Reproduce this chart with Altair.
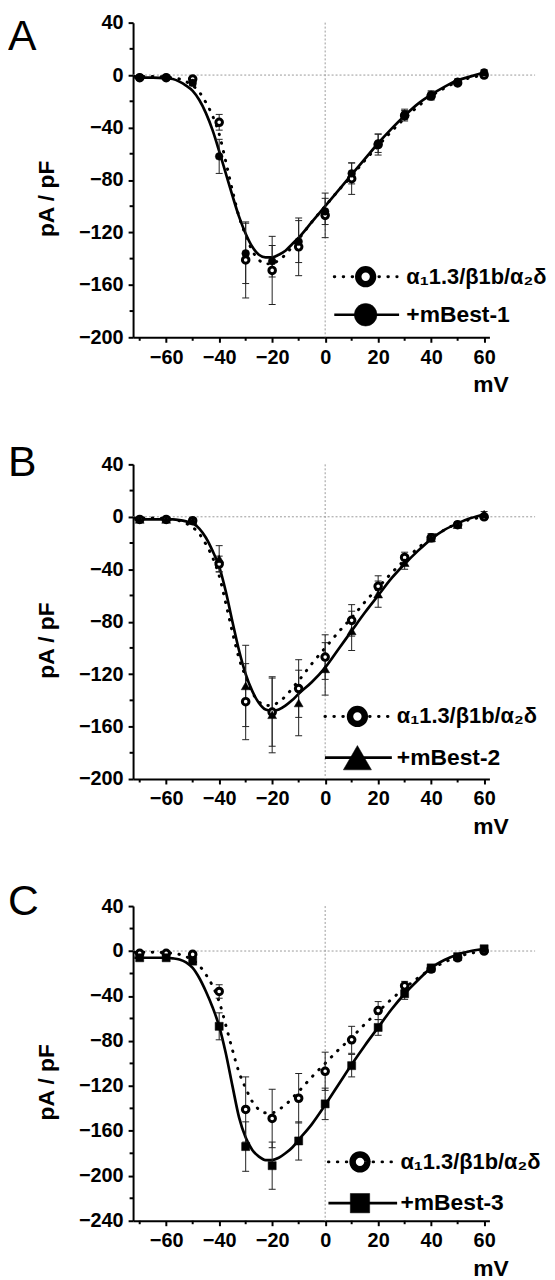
import altair as alt
import pandas as pd

FONT = "Liberation Sans"

# ---- data ----
voltages = [-70, -60, -50, -40, -30, -20, -10, 0, 10, 20, 30, 40, 50, 60]
ctrl_mean = [-2, -2, -3, -36, -141, -149, -131, -107, -79, -53, -31, -16, -6, 0]
ctrl_err = [1, 1, 2, 6, 29, 26, 22, 17, 12, 8, 4, 3, 2, 2]
best1_mean = [-2, -2, -6, -62, -136, -142, -127, -104, -75, -52, -30, -15, -5, 2]
best1_err = [1, 1, 2, 13, 23, 12, 16, 10, 8, 7, 4, 3, 2, 2]
best2_mean = [-2, -2, -3, -32, -129, -151, -142, -116, -87, -59, -35, -16, -6, 2]
best2_err = [1, 1, 2, 10, 31, 29, 25, 20, 15, 10, 5, 3, 2, 2]
best3_mean = [-6, -6, -9, -67, -174, -191, -169, -136, -102, -68, -38, -15, -5, 2]
best3_err = [2, 2, 3, 12, 22, 21, 17, 14, 10, 7, 5, 3, 2, 2]

# fitted curves
fit_v = [-72, -65, -60, -57.5, -55, -52.5, -50, -47.5, -45, -42.5, -40, -37.5, -35,
         -32.5, -30, -27.5, -25, -22.5, -20, -17.5, -15, -12.5, -10, -5, 0, 5, 10,
         15, 20, 25, 30, 35, 40, 45, 50, 55, 60]
fit_ctrl = [-1, -1, -1.5, -2, -3, -5, -8, -13, -21, -31, -45, -66, -88,
            -108, -122, -134, -141, -144, -144, -141, -137, -131, -125, -112, -100, -88, -77,
            -65, -54, -43, -33, -24, -16, -10, -5, -2, 0]
fit_best1 = [-2, -2, -2.5, -3, -5, -8, -12, -19, -29, -42, -58, -75, -92,
             -108, -121, -131, -137, -139, -139, -137, -134, -129, -124, -112, -100, -88, -76,
             -64, -52, -41, -31, -22, -15, -9, -4, -1, 2]
fit_best2 = [-2, -2, -2, -2, -2.5, -3.5, -5, -9, -16, -26, -38, -57, -80,
             -102, -120, -133, -142, -147, -148, -147, -144, -140, -135, -126, -115, -101, -87,
             -73, -60, -47, -36, -26, -17, -10, -5, -1, 2]
fit_best3 = [-6, -6, -6, -6.5, -7.5, -10, -15, -24, -36, -50, -67, -91, -120,
             -148, -166, -177, -183, -186, -186, -184, -180, -175, -168, -154, -137, -119, -101,
             -84, -68, -52, -38, -26, -15, -8, -3, 0, 2]

x_major = [-60, -40, -20, 0, 20, 40, 60]
x_minor = [-70, -50, -30, -10, 10, 30, 50]

W, H = 359, 317
CTRL_LABEL = "α₁1.3/β1b/α₂δ"


def panel(letter, letter_y, mean, err, fit, ydom, ymajor, yminor, shape, size,
          leg_label, leg_shape, leg_size, leg):
    x_enc = alt.X("v:Q", scale=alt.Scale(domain=[-72.5, 62], nice=False, zero=False),
                  axis=alt.Axis(values=x_major, title="mV", titleX=360, titleY=48,
                                titleAlign="center", titleBaseline="middle",
                                labelFlush=False))
    y_enc = alt.Y("i:Q", scale=alt.Scale(domain=ydom, nice=False, zero=False),
                  axis=alt.Axis(values=ymajor, title="pA / pF", titleAngle=270,
                                titleX=-87, titleY=177, titleAlign="center",
                                titleBaseline="middle"))

    zero_h = alt.Chart(pd.DataFrame({"i": [0]})).mark_rule(
        color="#9a9a9a", strokeWidth=1, strokeDash=[2, 2]).encode(
        y=y_enc, x=alt.value(0), x2=alt.value(405))
    zero_v = alt.Chart(pd.DataFrame({"v": [0]})).mark_rule(
        color="#9a9a9a", strokeWidth=1, strokeDash=[2, 2]).encode(
        x=x_enc, y=alt.value(0), y2=alt.value(H))
    minor_y = alt.Chart(pd.DataFrame({"i": yminor})).mark_rule(
        color="black", strokeWidth=2).encode(y=y_enc, x=alt.value(-3.5), x2=alt.value(0))
    minor_x = alt.Chart(pd.DataFrame({"v": x_minor})).mark_rule(
        color="black", strokeWidth=2).encode(x=x_enc, y=alt.value(H), y2=alt.value(H + 3.5))

    fit_c = alt.Chart(pd.DataFrame({"v": fit_v, "i": fit_ctrl})).mark_line(
        color="black", strokeWidth=3, strokeDash=[0.5, 8.5], strokeCap="round",
        interpolate="monotone").encode(x=x_enc, y=y_enc)
    fit_t = alt.Chart(pd.DataFrame({"v": fit_v, "i": fit})).mark_line(
        color="black", strokeWidth=2.7, interpolate="monotone").encode(x=x_enc, y=y_enc)

    lo_c = [m - e for m, e in zip(ctrl_mean, ctrl_err)]
    hi_c = [m + e for m, e in zip(ctrl_mean, ctrl_err)]
    lo_t = [m - e for m, e in zip(mean, err)]
    hi_t = [m + e for m, e in zip(mean, err)]
    bars = alt.Chart(pd.DataFrame({"v": voltages * 2, "i": lo_c + lo_t, "i2": hi_c + hi_t})).mark_rule(
        color="#222", strokeWidth=1).encode(x=x_enc, y=y_enc, y2="i2:Q")
    caps = alt.Chart(pd.DataFrame({"v": voltages * 4, "i": lo_c + hi_c + lo_t + hi_t})).mark_tick(
        orient="horizontal", size=7, thickness=1, color="#222", opacity=1).encode(x=x_enc, y=y_enc)

    pts_c = alt.Chart(pd.DataFrame({"v": voltages, "i": ctrl_mean})).mark_point(
        shape="circle", filled=True, fill="white", stroke="black", strokeWidth=3,
        size=44, opacity=1).encode(x=x_enc, y=y_enc)
    pts_t = alt.Chart(pd.DataFrame({"v": voltages, "i": mean})).mark_point(
        shape=shape, filled=True, fill="black", stroke="black", strokeWidth=0.5,
        size=size, opacity=1).encode(x=x_enc, y=y_enc)

    dummy = pd.DataFrame({"d": [0]})
    r1, r2, lx0, lx1, mx, tx = leg
    l_rule1 = alt.Chart(dummy).mark_rule(
        color="black", strokeWidth=3, strokeDash=[0.5, 8.5], strokeCap="round").encode(
        x=alt.value(lx0), x2=alt.value(lx1), y=alt.value(r1))
    l_pt1 = alt.Chart(dummy).mark_point(
        shape="circle", filled=True, fill="white", stroke="black", strokeWidth=6.5,
        size=222, opacity=1).encode(x=alt.value(mx), y=alt.value(r1))
    l_txt1 = alt.Chart(dummy).mark_text(
        text=CTRL_LABEL, align="left", baseline="middle", font=FONT, fontSize=22,
        fontWeight="bold", color="black").encode(x=alt.value(tx), y=alt.value(r1))
    l_rule2 = alt.Chart(dummy).mark_rule(color="black", strokeWidth=2.7).encode(
        x=alt.value(lx0), x2=alt.value(lx1 + 2), y=alt.value(r2))
    l_pt2 = alt.Chart(dummy).mark_point(
        shape=leg_shape, filled=True, fill="black", stroke="black", strokeWidth=0.5,
        size=leg_size, opacity=1).encode(x=alt.value(mx), y=alt.value(r2))
    l_txt2 = alt.Chart(dummy).mark_text(
        text=leg_label, align="left", baseline="middle", font=FONT, fontSize=23,
        fontWeight="bold", color="black").encode(x=alt.value(tx), y=alt.value(r2))

    lab = alt.Chart(dummy).mark_text(
        text=letter, align="left", baseline="top", font=FONT, fontSize=43,
        color="black").encode(x=alt.value(-126), y=alt.value(letter_y))

    return alt.layer(zero_h, zero_v, minor_y, minor_x, fit_c, fit_t, bars, caps,
                     pts_c, pts_t, l_rule1, l_pt1, l_txt1, l_rule2, l_pt2, l_txt2,
                     lab).properties(width=W, height=H)


pA = panel("A", -6, best1_mean, best1_err, fit_best1, [-200, 40],
           [40, 0, -40, -80, -120, -160, -200], [20, -20, -60, -100, -140, -180],
           "circle", 60, "+mBest-1", "circle", 520,
           (256, 294.3, 202.7, 266, 234.3, 275.3))
pB = panel("B", -22.5, best2_mean, best2_err, fit_best2, [-200, 40],
           [40, 0, -40, -80, -120, -160, -200], [20, -20, -60, -100, -140, -180],
           "triangle-up", 80, "+mBest-2", "triangle-up", 800,
           (254, 295.5, 193.3, 258.7, 226, 265.7))
pC = panel("C", -25.2, best3_mean, best3_err, fit_best3, [-240, 40],
           [40, 0, -40, -80, -120, -160, -200, -240], [20, -20, -60, -100, -140, -180, -220],
           "square", 66, "+mBest-3", "square", 380,
           (257.7, 299.3, 196.8, 264, 228.6, 269.3))

chart = alt.vconcat(pA, pB, pC, spacing=128, bounds="flush").properties(
    padding=0
).configure_view(stroke=None).configure_axis(
    domainColor="black", domainWidth=2, tickColor="black", tickWidth=2, tickSize=5,
    labelPadding=5, labelFont=FONT, labelFontSize=20, labelFontWeight="bold",
    labelColor="black", titleFont=FONT, titleFontSize=23, titleFontWeight="bold",
    titleColor="black", grid=False
)

chart.save("out.html", embed_options={"renderer": "svg", "actions": False})
